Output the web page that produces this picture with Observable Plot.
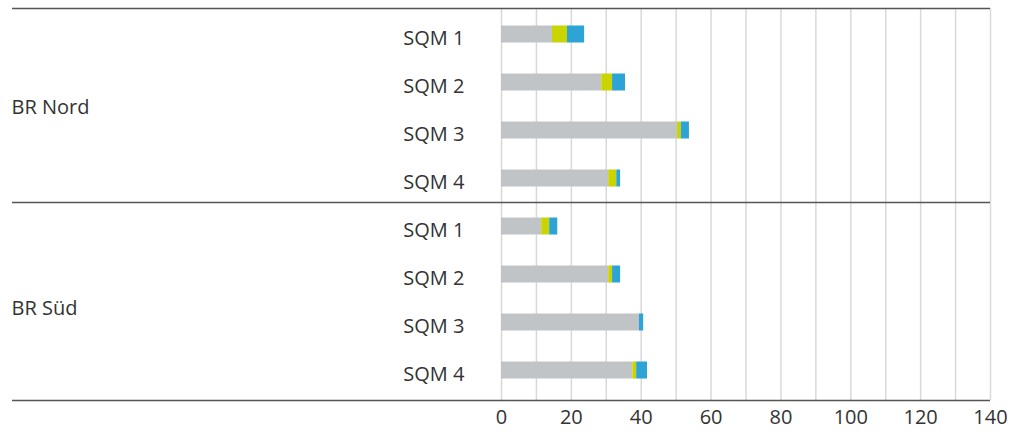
<!DOCTYPE html>
<html>
<head>
<meta charset="utf-8">
<script src="https://cdn.jsdelivr.net/npm/d3@7"></script>
<script src="https://cdn.jsdelivr.net/npm/@observablehq/plot@0.6"></script>
<style>
  html, body { margin: 0; padding: 0; background: #fff; }
</style>
</head>
<body>
<div id="chart"></div>
<script>
const regions = ["BR Nord", "BR Nord", "BR Nord", "BR Nord", "BR Süd", "BR Süd", "BR Süd", "BR Süd"];
const sqm = ["SQM 1", "SQM 2", "SQM 3", "SQM 4", "SQM 1", "SQM 2", "SQM 3", "SQM 4"];
const series = ["Serie 1", "Serie 2", "Serie 3"];
const gray = [14.6, 28.7, 50.4, 30.7, 11.5, 30.7, 39.5, 37.6];
const yellow = [4.3, 3.1, 1.1, 2.3, 2.3, 1.1, 0, 1.1];
const blue = [4.9, 3.7, 2.3, 1.1, 2.3, 2.3, 1.2, 3.1];
const colors = ["#c0c4c7", "#cad400", "#2ea3d6"];
const xTicks = [0, 20, 40, 60, 80, 100, 120, 140];
const gridTicks = d3.range(0, 141, 10);
const groupLabels = ["BR Nord", "BR Süd"];

const keys = regions.map((r, i) => r + "|" + sqm[i]);
const values = [gray, yellow, blue];
const rows = [];
keys.forEach((k, i) => series.forEach((s, j) => rows.push({key: k, series: s, value: values[j][i]})));

const fontFamily = "'Open Sans', 'Segoe UI', sans-serif";

const chart = Plot.plot({
  width: 1016,
  height: 437,
  marginLeft: 501,
  marginRight: 26,
  marginTop: 8,
  marginBottom: 37,
  style: {fontFamily, fontSize: "20px", color: "#333", background: "#fff"},
  x: {domain: [0, 140], ticks: xTicks, tickSize: 0, tickPadding: 9, label: null},
  y: {domain: keys, range: [10, 394], padding: 0, axis: null},
  color: {domain: series, range: colors},
  marks: [
    Plot.ruleX(gridTicks, {stroke: "#d9d9d9", strokeWidth: 1.5}),
    Plot.barX(rows, Plot.stackX({x: "value", y: "key", fill: "series", order: series, insetTop: 15.5, insetBottom: 15.5})),
    Plot.ruleY([keys[0]], {dy: -26, insetLeft: -489, stroke: "#555", strokeWidth: 1.5}),
    Plot.ruleY([keys[4]], {dy: -24, insetLeft: -489, stroke: "#555", strokeWidth: 1.5}),
    Plot.ruleY([keys[7]], {dy: 30, insetLeft: -489, stroke: "#555", strokeWidth: 1.5}),
    Plot.text(keys, {y: d => d, text: (d, i) => sqm[i], frameAnchor: "left", textAnchor: "end",
      dx: -37, dy: 4, fill: "#333", fontSize: 20}),
    Plot.text([groupLabels[0]], {y: [keys[1]], text: d => d, frameAnchor: "left", textAnchor: "start",
      dx: -490, dy: 25, fill: "#333", fontSize: 20}),
    Plot.text([groupLabels[1]], {y: [keys[5]], text: d => d, frameAnchor: "left", textAnchor: "start",
      dx: -490, dy: 34, fill: "#333", fontSize: 20})
  ]
});
document.getElementById("chart").appendChild(chart);
</script>
</body>
</html>
